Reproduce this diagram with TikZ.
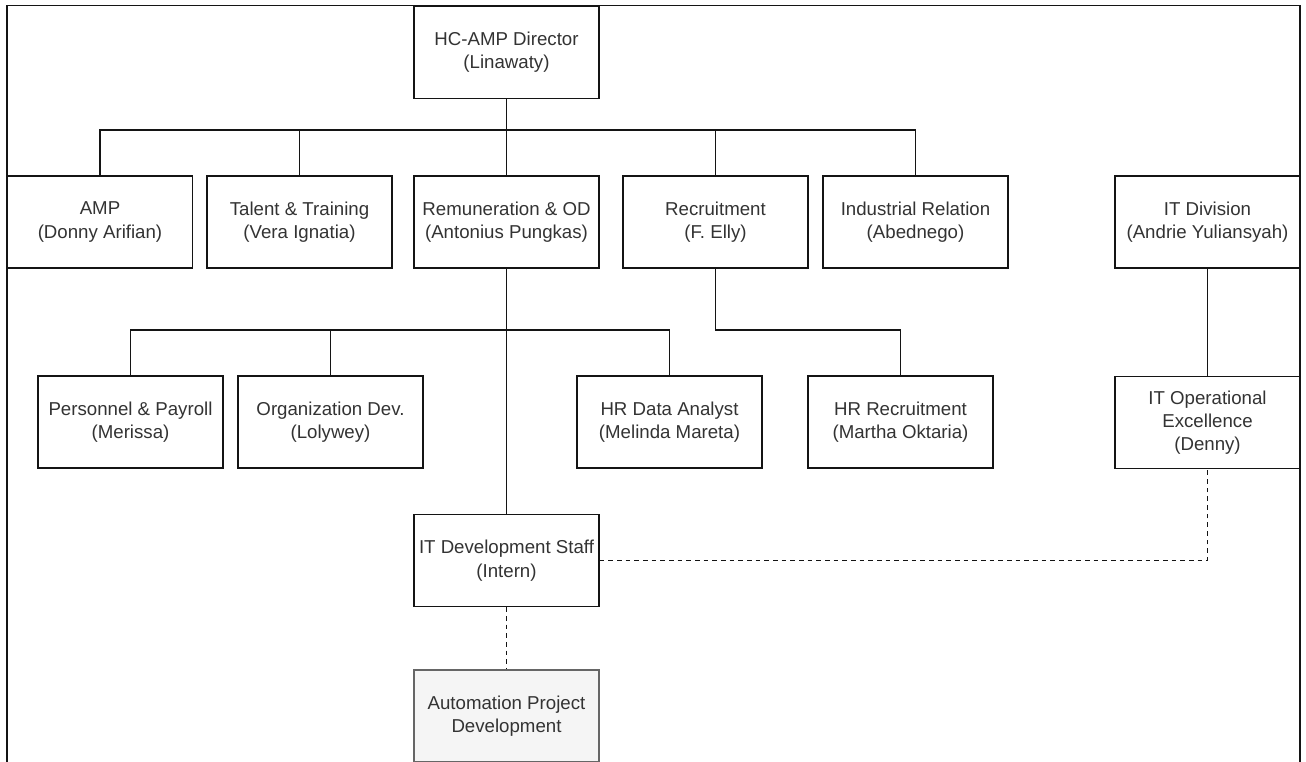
\documentclass[tikz,border=0pt]{standalone}
\usepackage{fontspec}
\setmainfont{Liberation Sans}
\usepackage{xcolor}
\usepackage{tikz}
\usetikzlibrary{calc}
\definecolor{orgText}{RGB}{51, 51, 51}
\definecolor{orgLine}{RGB}{20, 20, 20}
\definecolor{orgGrey}{RGB}{245, 245, 245}
\definecolor{orgGreyLine}{RGB}{102, 102, 102}
\tikzset{
  orgbox/.style={draw=orgLine, line width=1.1pt, fill=white, text=orgText,
    minimum width=138.75pt, minimum height=69pt, align=center, inner sep=2pt,
    font=\fontsize{14}{17.5}\selectfont},
  planbox/.style={orgbox, draw=orgGreyLine, fill=orgGrey},
  orgline/.style={draw=orgLine, line width=1.1pt},
  linkline/.style={orgline, dash pattern=on 3.5pt off 3pt}
}

\begin{document}
\begin{tikzpicture}[x=0.75pt, y=-0.75pt]
        % Page area
        \clip (0,0) rectangle (1306,761);
        \fill[white] (0,0) rectangle (1306,761);
        % Outer frame
        \draw[orgline] (7,5.5) rectangle (1300,800);
        % Director on top
        \node[orgbox] (director) at (506.5,52.5) {HC-AMP Director\\(Linawaty)};
        % First row of units
        \node[orgbox] (amp) at (100,222) {AMP\\(Donny Arifian)};
        \node[orgbox] (talent) at (299.5,222) {Talent \& Training\\(Vera Ignatia)};
        \node[orgbox] (remun) at (506.5,222) {Remuneration \& OD\\(Antonius Pungkas)};
        \node[orgbox] (recruit) at (715.5,222) {Recruitment\\(F. Elly)};
        \node[orgbox] (industrial) at (915.5,222) {Industrial Relation\\(Abednego)};
        \node[orgbox] (itdiv) at (1207.5,222) {IT Division\\(Andrie Yuliansyah)};
        % Second row of units
        \node[orgbox] (personnel) at (130.5,422) {Personnel \& Payroll\\(Merissa)};
        \node[orgbox] (orgdev) at (330.5,422) {Organization Dev.\\(Lolywey)};
        \node[orgbox] (hrdata) at (669.5,422) {HR Data Analyst\\(Melinda Mareta)};
        \node[orgbox] (hrrecruit) at (900.5,422) {HR Recruitment\\(Martha Oktaria)};
        \node[orgbox] (itops) at (1207.5,422.5) {IT Operational\\Excellence\\(Denny)};
        % Intern and project
        \node[orgbox] (itdev) at (506.5,560.5) {IT Development Staff\\(Intern)};
        \node[planbox] (automation) at (506.5,716) {Automation Project\\Development};
        % Bus coordinates
        \coordinate (topbus) at (506.5,130);
        \coordinate (midbus) at (506.5,330);
        \coordinate (recbus) at (715.5,330);
        % Lines from the director
        \draw[orgline] (director.south) -- (topbus);
        \foreach \unit in {amp,talent,recruit,industrial}
            \draw[orgline] (topbus) -| (\unit.north);
        \draw[orgline] (topbus) -- (remun.north);
        % Lines under Remuneration
        \foreach \unit in {personnel,orgdev,hrdata}
            \draw[orgline] (midbus) -| (\unit.north);
        \draw[orgline] (remun.south) -- (itdev.north);
        % Line under Recruitment
        \draw[orgline] (recruit.south) -- (recbus) -| (hrrecruit.north);
        % IT division line
        \draw[orgline] (itdiv.south) -- (itops.north);
        % Dotted links
        \draw[linkline] (itdev.east) -| (itops.south);
        \draw[linkline] (itdev.south) -- (automation.north);
    \end{tikzpicture}
\end{document}
